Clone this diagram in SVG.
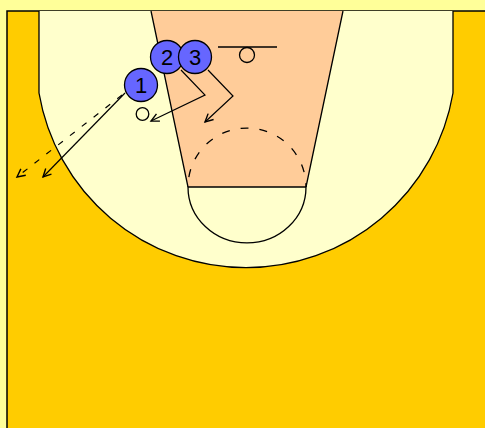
<svg xmlns="http://www.w3.org/2000/svg" width="485" height="428" viewBox="0 0 485 428">
<style>
.ln{fill:none;stroke:#000;stroke-width:1.3}
.mv{fill:none;stroke:#000;stroke-width:1.2}
.pl{fill:#6666FF;stroke:#000;stroke-width:1.3}
.lb{font-family:"Liberation Sans",Arial,sans-serif;font-size:22px;fill:#000;text-anchor:middle}
</style>
<defs>
<marker id="ah" markerUnits="userSpaceOnUse" markerWidth="12" markerHeight="12" refX="9" refY="5" orient="auto" viewBox="0 0 12 10">
<path d="M1,1 L9,5 L1,9" fill="none" stroke="#000" stroke-width="1.4"/>
</marker>
</defs>
<rect x="0" y="0" width="485" height="428" fill="#FFFF99"/>
<g id="court">
<rect x="7" y="11" width="490" height="430" fill="#FFCC00" stroke="#000" stroke-width="1.5"/>
<path d="M39,11 V93 A210,210 0 0 0 453,93 V11 Z" fill="#FFFFCC" stroke="none"/>
<path d="M39,11 V93 A210,210 0 0 0 453,93 V11" class="ln"/>
<path d="M151,11 L343,11 L306,187 L188,187 Z" fill="#FFCC99" stroke="none"/>
<path d="M151,11 L188,187 M343,11 L306,187" class="ln"/>
<path d="M188,187 A59,56 0 0 0 306,187 Z" fill="#FFFFCC" class="ln"/>
<path d="M188,187 A59,59 0 0 1 306,187" class="ln" stroke-dasharray="8,11" stroke-dashoffset="-10"/>
<line x1="218" y1="47" x2="277" y2="47" class="ln"/>
<circle cx="247" cy="55" r="7.5" class="ln"/>
</g>
<g id="connectors">
<path d="M181,70 L205,95 L151,121" class="mv" marker-end="url(#ah)"/>
<path d="M208,70 L233,96 L205,122" class="mv" marker-end="url(#ah)"/>
<path d="M125,93 L43,177" class="mv" marker-end="url(#ah)"/>
<path d="M122,95 L17,177" class="mv" stroke-dasharray="6,9" marker-end="url(#ah)"/>
</g>
<g id="defender">
<circle cx="142.5" cy="114" r="6.3" class="ln"/>
</g>
<g id="player1">
<circle cx="141" cy="85" r="16.5" class="pl"/>
<text x="141" y="93" class="lb">1</text>
</g>
<g id="player2">
<circle cx="167" cy="57" r="16.5" class="pl"/>
<text x="167" y="65" class="lb">2</text>
</g>
<g id="player3">
<circle cx="195" cy="57" r="16.5" class="pl"/>
<text x="195" y="65" class="lb">3</text>
</g>
</svg>
